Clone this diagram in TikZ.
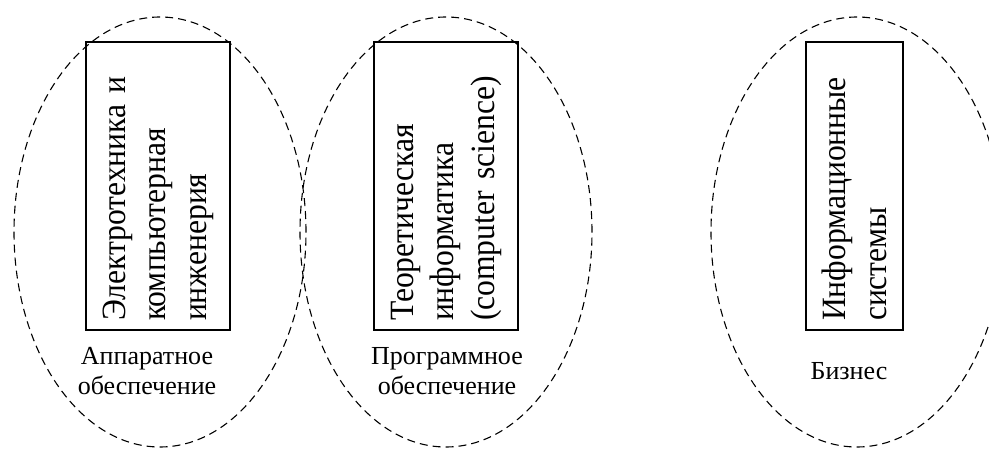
\documentclass[tikz,border=0pt]{standalone}
\usepackage{fontspec}
\setmainfont{Liberation Serif}
\newfontfamily\boxfont[FakeStretch=0.93]{Liberation Serif}
\usetikzlibrary{shapes.geometric}
\begin{document}
\begin{tikzpicture}[x=1pt,y=-1pt,
  area/.style={ellipse, draw, line width=1.1pt, dash pattern=on 8pt off 5pt, minimum width=292pt, minimum height=430pt, inner sep=0pt},
  fieldbox/.style={draw, line width=1.6pt, rotate=90, minimum width=288pt, inner xsep=9pt, inner ysep=0pt, text width=270pt, align=left, font=\boxfont\fontsize{34}{40.5}\selectfont},
  areaname/.style={align=center, font=\fontsize{26}{30}\selectfont, inner sep=0pt}]
\useasboundingbox (0,0) rectangle (989,449);
\node[area] (hw) at (160,232) {};
\node[area] (sw) at (446,232) {};
\node[area] (biz) at (857,232) {};
\node[fieldbox, minimum height=144pt] (ee) at (158,186) {Электротехника и\\компьютерная\\инженерия};
\node[fieldbox, minimum height=144pt] (cs) at (446,186) {Теоретическая\\информатика\\(computer science)};
\node[fieldbox, minimum height=97pt] (is) at (854.5,186) {Информационные\\системы};
\node[areaname, anchor=base] (hwl) at (147,365) {Аппаратное};
\node[areaname, anchor=base] (hwl2) at (147,395) {обеспечение};
\node[areaname, anchor=base] (swl) at (447,365) {Программное};
\node[areaname, anchor=base] (swl2) at (447,395) {обеспечение};
\node[areaname, anchor=base] (bizl) at (849,380) {Бизнес};
\end{tikzpicture}
\end{document}
